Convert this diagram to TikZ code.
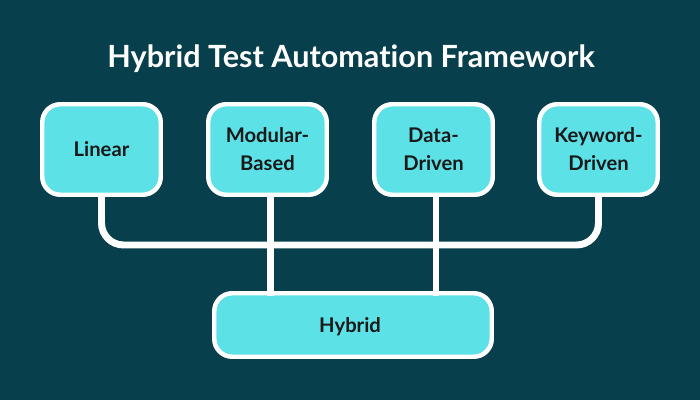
\documentclass[tikz,border=0pt]{standalone}
\usepackage{fontspec}
\setmainfont{Lato}[Ligatures=CommonOff]
\usepackage{tikz}
\definecolor{nenxanh}{HTML}{07404C}
\definecolor{hopxanh}{HTML}{5CE1E6}
\tikzset{
	squarednode/.style={rectangle, draw=white, fill=hopxanh, line width=2.55pt, rounded corners=0.36cm, minimum width=2.37cm, minimum height=1.81cm, inner sep=0pt, align=center, text=black!90, font=\fontsize{11.5}{15.9}\selectfont\bfseries},
	widenode/.style={squarednode, minimum width=5.55cm, minimum height=1.27cm, text depth=0pt},
	busline/.style={line width=3.97pt, color=white}
}
\begin{document}
\begin{tikzpicture}
			\fill[nenxanh] (0,0) rectangle (14,8);
			\node[text=white, font=\fontsize{17.4}{20}\selectfont\bfseries] (title) at (7.02,6.83) {Hybrid Test Automation Framework};
			
			\node[squarednode] (linear) at (2.03,5.01) {Linear};
			\node[squarednode] (modular) at (5.35,5.01) {Modular-\\Based};
			\node[squarednode] (data) at (8.67,5.01) {Data-\\Driven};
			\node[squarednode] (keyword) at (11.97,5.01) {Keyword-\\Driven};
			\node[widenode] (hybrid) at (7.06,1.5) {Hybrid\kern3.4pt};
			
			\coordinate (bus) at (7,3.1);
			\draw[busline, rounded corners=0.44cm] (linear.south) |- (bus) -| (keyword.south);
			\draw[busline] ([xshift=0.06cm]modular.south) -- ([xshift=0.06cm,yshift=-0.1cm]modular.south |- hybrid.north);
			\draw[busline] ([xshift=0.05cm]data.south) -- ([xshift=0.05cm,yshift=-0.1cm]data.south |- hybrid.north);
		\end{tikzpicture}
\end{document}
